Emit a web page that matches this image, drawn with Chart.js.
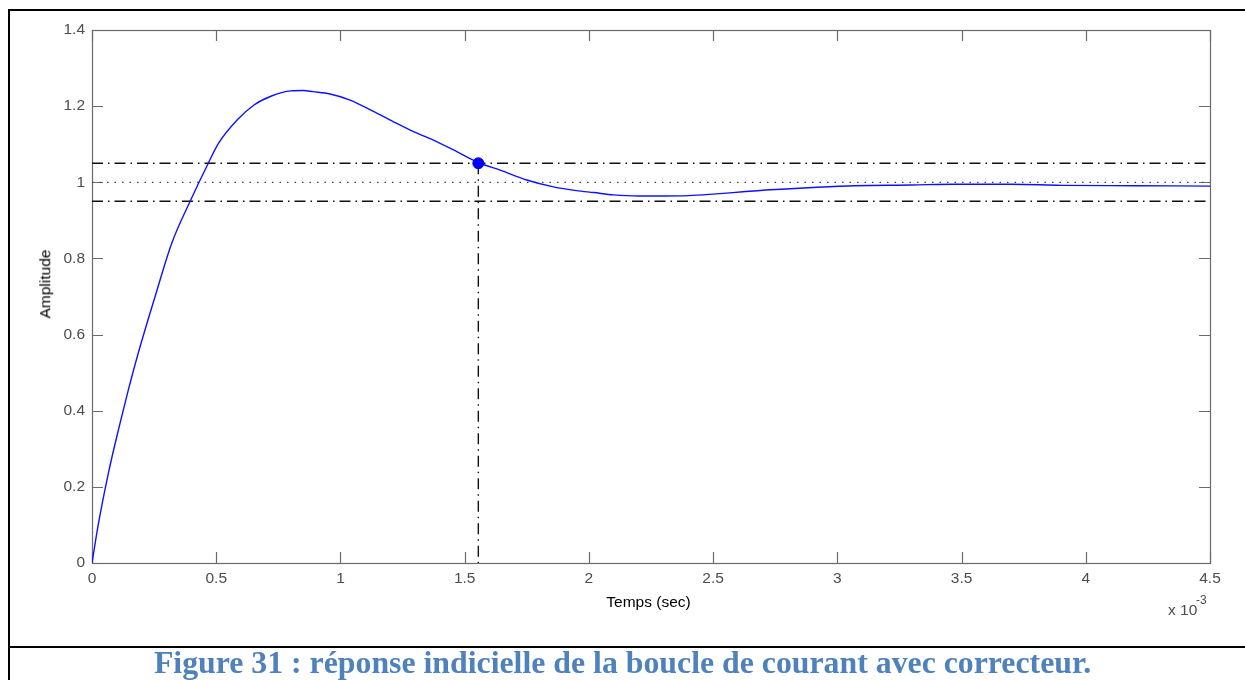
<!DOCTYPE html>
<html><head><meta charset="utf-8">
<script src="https://cdn.jsdelivr.net/npm/chart.js@4.4.0/dist/chart.umd.min.js"></script>
<style>
html,body{margin:0;padding:0;background:#fff;width:1245px;height:680px;overflow:hidden;position:relative;font-family:"Liberation Sans",Arial,sans-serif}
#c{position:absolute;left:0;top:0}
.frameL{position:absolute;left:8px;top:9px;width:2px;height:680px;background:#000}
.frameT{position:absolute;left:8px;top:9px;width:1237px;height:2px;background:#000}
.sep{position:absolute;left:8px;top:646px;width:1237px;height:2px;background:#000}
.lbl{position:absolute;white-space:nowrap;color:#000;font-size:15.5px;line-height:15.5px}
#cap{position:absolute;left:0;width:1245px;top:647px;text-align:center;font:bold 31.8px/31.8px "Liberation Serif","Times New Roman",serif;color:#4f81bd;white-space:nowrap}
</style></head>
<body>
<canvas id="c" width="1245" height="680"></canvas>
<div class="frameL"></div><div class="frameT"></div><div class="sep"></div>
<div class="lbl" id="xt" style="left:648.5px;top:593.6px;transform:translateX(-50%)">Temps (sec)</div>
<div class="lbl" id="yt" style="left:44.5px;top:284px;transform:translate(-50%,-50%) rotate(-90deg)">Amplitude</div>
<div class="lbl" style="left:1168px;top:601.9px;color:#4d4d4d">x 10</div>
<div class="lbl" style="left:1196px;top:593.8px;font-size:12px;line-height:12px;color:#4d4d4d">-3</div>
<div id="cap">Figure 31 : réponse indicielle de la boucle de courant avec correcteur.</div>
<script>
// Data (time in ms, i.e. x 10^-3 s)
const timeMs = [0, 0.025, 0.066, 0.106, 0.146, 0.186, 0.254, 0.321, 0.395, 0.468, 0.509, 0.585, 0.652, 0.72, 0.80, 0.85, 0.89, 0.958, 1.039, 1.133, 1.213, 1.294, 1.374, 1.455, 1.555, 1.643, 1.75, 1.857, 1.95, 2.02, 2.1, 2.2, 2.3, 2.4, 2.5, 2.62, 2.7, 2.81, 2.92, 3.07, 3.3, 3.47, 3.7, 3.9, 4.2, 4.5];
const amplitude = [0, 0.10, 0.236, 0.349, 0.454, 0.551, 0.700, 0.840, 0.950, 1.050, 1.102, 1.164, 1.203, 1.226, 1.240, 1.241, 1.238, 1.232, 1.216, 1.186, 1.159, 1.133, 1.111, 1.085, 1.052, 1.032, 1.006, 0.988, 0.978, 0.973, 0.967, 0.964, 0.964, 0.965, 0.969, 0.975, 0.979, 0.983, 0.987, 0.991, 0.993, 0.995, 0.995, 0.992, 0.991, 0.990];
const settlingTime = 1.555;
const settlingValue = 1.05;
const bandUpper = 1.05;
const bandLower = 0.95;
const finalValue = 1;
const xRange = [0, 4.5];
const yRange = [0, 1.4];
const xStep = 0.5;
const yStep = 0.2;

const fmt = v => String(Number(v.toFixed(2)));
const dashDot = [11, 5, 1.5, 5];

const axisBox = {
  id: 'axisBox',
  beforeDatasetsDraw(chart) {
    const {ctx, chartArea: a, scales: {x, y}} = chart;
    ctx.save();
    ctx.strokeStyle = '#6a6a6a';
    ctx.lineWidth = 1.2;
    ctx.strokeRect(a.left + 0.5, a.top + 0.5, a.right - a.left, a.bottom - a.top);
    const L = 11;
    ctx.beginPath();
    x.ticks.forEach(t => {
      const px = Math.round(x.getPixelForValue(t.value)) + 0.5;
      ctx.moveTo(px, a.bottom); ctx.lineTo(px, a.bottom - L);
      ctx.moveTo(px, a.top); ctx.lineTo(px, a.top + L);
    });
    y.ticks.forEach(t => {
      const py = Math.round(y.getPixelForValue(t.value)) + 0.5;
      ctx.moveTo(a.left, py); ctx.lineTo(a.left + L, py);
      ctx.moveTo(a.right, py); ctx.lineTo(a.right - L, py);
    });
    ctx.stroke();
    ctx.restore();
  }
};

const tickFont = {family: '"Liberation Sans", Arial, sans-serif', size: 15.5};

new Chart(document.getElementById('c'), {
  type: 'scatter',
  data: {
    datasets: [
      {
        label: 'settling point',
        data: [{x: settlingTime, y: settlingValue}],
        pointRadius: 5.5, pointBackgroundColor: '#0000ff', pointBorderColor: '#0000ff',
        showLine: false, order: 0
      },
      {
        label: 'response',
        data: timeMs.map((t, i) => ({x: t, y: amplitude[i]})),
        showLine: true, borderColor: '#1010ff', borderWidth: 1.4, pointRadius: 0,
        cubicInterpolationMode: 'monotone', order: 1
      },
      {
        label: 'upper',
        data: [{x: xRange[0], y: bandUpper}, {x: xRange[1], y: bandUpper}],
        showLine: true, borderColor: '#111', borderWidth: 1.4, borderDash: dashDot, pointRadius: 0, order: 2
      },
      {
        label: 'lower',
        data: [{x: xRange[0], y: bandLower}, {x: xRange[1], y: bandLower}],
        showLine: true, borderColor: '#111', borderWidth: 1.4, borderDash: dashDot, pointRadius: 0, order: 2
      },
      {
        label: 'final',
        data: [{x: xRange[0], y: finalValue}, {x: xRange[1], y: finalValue}],
        showLine: true, borderColor: '#444', borderWidth: 1.2, borderDash: [1.5, 6], pointRadius: 0, order: 2
      },
      {
        label: 'vertical',
        data: [{x: settlingTime, y: settlingValue}, {x: settlingTime, y: yRange[0]}],
        showLine: true, borderColor: '#111', borderWidth: 1.4, borderDash: dashDot, pointRadius: 0, order: 2
      }
    ]
  },
  options: {
    responsive: false,
    devicePixelRatio: 1,
    animation: false,
    layout: {padding: {left: 0, top: 30, right: 35, bottom: 0}},
    plugins: {legend: {display: false}, tooltip: {enabled: false}},
    scales: {
      x: {
        type: 'linear', min: xRange[0], max: xRange[1],
        grid: {display: false, drawTicks: false},
        border: {display: false},
        ticks: {stepSize: xStep, autoSkip: false, maxRotation: 0, color: '#4d4d4d', font: tickFont, padding: 6, callback: v => fmt(v)},
        afterFit: s => { s.height = 117; }
      },
      y: {
        type: 'linear', min: yRange[0], max: yRange[1],
        grid: {display: false, drawTicks: false},
        border: {display: false},
        ticks: {stepSize: yStep, autoSkip: false, color: '#4d4d4d', font: tickFont, padding: 7, callback: v => fmt(v)},
        afterFit: s => { s.width = 92; }
      }
    }
  },
  plugins: [axisBox]
});
</script>
</body></html>
